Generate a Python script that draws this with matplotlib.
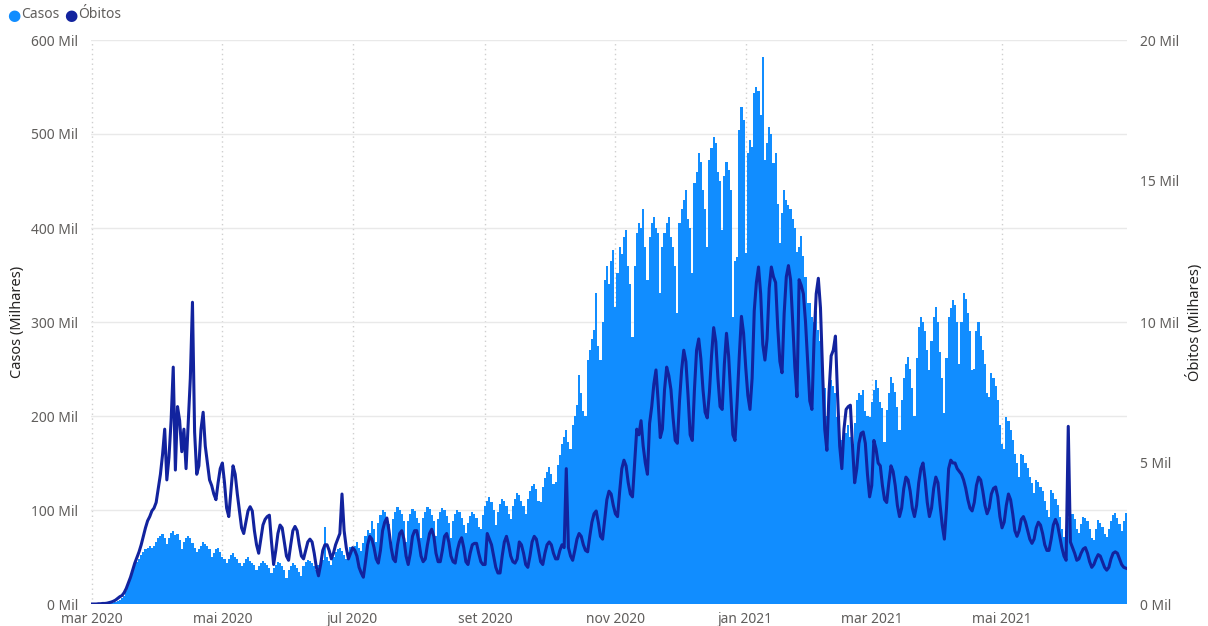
import numpy as np
import pandas as pd
import matplotlib
matplotlib.use("Agg")
import matplotlib.pyplot as plt

# Dados diarios (milhares), a partir de 01/03/2020, uma semana por linha
casos = [
    0, 0, 0, 0.1, 0.1, 0.2, 0.3,
    0.5, 0.8, 1.0, 1.5, 2.0, 3.0, 4.0,
    6, 9, 14, 20, 28, 36, 42,
    45, 48, 52, 55, 58, 60, 62,
    60, 62, 66, 70, 72, 74, 70,
    64, 70, 76, 78, 73, 75, 68,
    58, 66, 70, 72, 70, 65, 60,
    55, 58, 62, 66, 64, 62, 58,
    50, 54, 58, 60, 55, 50, 48,
    44, 48, 52, 54, 50, 48, 44,
    40, 44, 48, 50, 46, 44, 42,
    36, 40, 44, 46, 44, 42, 38,
    33, 38, 42, 45, 44, 40, 36,
    28, 36, 40, 44, 42, 38, 34,
    30, 40, 45, 47, 46, 44, 40,
    36, 42, 48, 47, 82, 50, 46,
    42, 50, 55, 58, 60, 56, 52,
    48, 55, 61, 60, 62, 66, 60,
    56, 65, 72, 79, 76, 88, 80,
    66, 86, 95, 100, 98, 92, 85,
    62, 90, 98, 103, 100, 96, 88,
    66, 88, 96, 101, 99, 92, 86,
    70, 92, 98, 103, 101, 95, 88,
    72, 90, 98, 102, 100, 94, 86,
    70, 88, 96, 100, 98, 92, 84,
    76, 86, 94, 98, 96, 92, 82,
    80, 95, 104, 110, 114, 108, 100,
    84, 98, 106, 112, 110, 104, 96,
    90, 104, 112, 118, 116, 110, 104,
    96, 112, 120, 126, 128, 122, 110,
    108, 125, 134, 140, 146, 138, 128,
    130, 148, 158, 170, 178, 185, 172,
    165, 190, 200, 212, 244, 225, 205,
    200, 260, 270, 282, 291, 331, 275,
    260, 300, 345, 360, 340, 365, 377,
    316, 352, 380, 372, 390, 398, 360,
    340, 284, 360, 395, 405, 400, 420,
    380, 345, 390, 405, 412, 400, 395,
    331, 380, 395, 405, 412, 390, 380,
    360, 310, 405, 420, 430, 440, 410,
    400, 352, 448, 460, 480, 470, 440,
    420, 380, 472, 485, 497, 490, 460,
    450, 398, 455, 470, 462, 440, 305,
    365, 369, 504, 529, 515, 373, 480,
    494, 486, 544, 550, 546, 520, 582,
    472, 490, 507, 500, 469, 480, 426,
    384, 416, 440, 430, 425, 420, 410,
    400, 375, 380, 392, 370, 348, 320,
    320, 305, 300, 312, 291, 280, 238,
    230, 200, 225, 238, 232, 224, 199,
    164, 175, 185, 182, 190, 178, 170,
    193, 217, 224, 222, 228, 205, 200,
    199, 215, 228, 238, 230, 215, 208,
    172, 206, 225, 241, 235, 226, 210,
    185, 217, 240, 255, 263, 250, 230,
    200, 262, 295, 305, 300, 290, 270,
    249, 280, 305, 316, 300, 268, 240,
    203, 262, 305, 315, 323, 318, 300,
    255, 300, 331, 325, 310, 290, 249,
    250, 290, 300, 285, 270, 255, 225,
    220, 246, 240, 232, 217, 190, 170,
    165, 199, 195, 185, 175, 160, 150,
    135, 160, 158, 150, 145, 135, 129,
    118, 132, 130, 125, 120, 110, 100,
    93, 121, 118, 112, 105, 93, 80,
    71, 78, 92, 100, 96, 90, 80,
    76, 85, 93, 92, 88, 80, 70,
    68, 80, 89, 86, 82, 75, 71,
    80, 88, 95, 97, 92, 85, 78,
    88, 97,
]

obitos = [
    0.0, 0.0, 0.0, 0.01, 0.01, 0.02, 0.02,
    0.03, 0.05, 0.07, 0.1, 0.14, 0.2, 0.26,
    0.3, 0.4, 0.55, 0.75, 0.95, 1.2, 1.45,
    1.65, 1.85, 2.1, 2.4, 2.7, 2.95, 3.1,
    3.3, 3.4, 3.6, 4.1, 4.6, 5.3, 6.2,
    4.4, 5.2, 6.5, 8.4, 4.75, 7.0, 6.5,
    5.4, 6.2, 4.8, 6.4, 8.0, 10.7, 6.1,
    4.6, 4.9, 6.2, 6.8, 5.6, 5.0, 4.4,
    4.2, 3.9, 3.7, 4.3, 4.8, 5.0, 4.3,
    3.4, 3.1, 4.0, 4.9, 4.6, 3.9, 3.3,
    2.7, 2.5, 2.9, 3.3, 3.45, 3.3, 2.6,
    2.1, 1.8, 2.3, 2.8, 3.0, 3.1, 3.15,
    2.2, 1.4, 1.9, 2.5, 2.8, 2.7, 2.2,
    1.7, 1.55, 2.1, 2.6, 2.75, 2.6, 2.1,
    1.7, 1.6, 1.9, 2.2, 2.3, 2.2, 1.8,
    1.3, 1.0, 1.4, 1.9, 2.1, 2.1, 1.9,
    1.6, 1.8, 2.1, 2.3, 2.5, 3.9, 2.6,
    2.0, 1.6, 1.8, 2.0, 1.9, 1.7, 1.3,
    1.1, 0.95, 1.5, 2.1, 2.4, 2.3, 2.0,
    1.6, 1.45, 1.9, 2.6, 2.9, 3.05, 2.6,
    2.0, 1.6, 1.5, 2.1, 2.5, 2.6, 2.3,
    1.7, 1.4, 1.8, 2.4, 2.6, 2.6, 2.2,
    1.7, 1.5, 1.6, 2.1, 2.5, 2.65, 2.4,
    1.8, 1.5, 1.5, 1.9, 2.4, 2.5, 2.2,
    1.7, 1.5, 1.45, 1.9, 2.2, 2.35, 2.0,
    1.5, 1.4, 1.8, 2.1, 2.15, 2.15, 1.8,
    1.5, 1.4, 1.4, 2.5, 2.3, 2.1, 1.7,
    1.3, 1.1, 1.1, 1.7, 2.2, 2.4, 2.1,
    1.7, 1.5, 1.45, 1.6, 2.2, 2.1, 1.8,
    1.4, 1.3, 1.7, 2.2, 2.4, 2.3, 1.9,
    1.5, 1.4, 1.8, 2.1, 2.2, 2.1, 1.8,
    1.6, 1.6, 1.9, 2.1, 2.0, 4.8, 2.0,
    1.7, 1.55, 1.9, 2.3, 2.5, 2.4, 2.1,
    1.9, 1.85, 2.4, 2.9, 3.2, 3.3, 2.9,
    2.4, 2.3, 3.0, 3.7, 4.0, 3.9, 3.5,
    3.2, 3.1, 4.0, 4.8, 5.1, 4.9, 4.3,
    3.9, 3.8, 5.0, 6.2, 6.0, 6.5, 5.6,
    5.0, 4.6, 6.4, 7.0, 7.8, 8.3, 7.2,
    5.9, 6.2, 7.6, 8.4, 8.1, 7.6, 6.6,
    5.8, 5.7, 7.2, 8.3, 9.0, 8.6, 7.4,
    6.0, 5.8, 7.6, 9.0, 9.4, 8.7, 7.6,
    6.8, 6.6, 7.5, 8.8, 9.8, 9.3, 8.0,
    7.0, 6.9, 8.5, 9.6, 8.8, 7.4, 6.0,
    5.8, 7.2, 8.8, 10.2, 9.6, 8.4, 7.4,
    6.9, 8.0, 10.4, 11.4, 11.95, 11.0, 9.2,
    8.65, 9.4, 11.2, 11.95, 11.6, 11.4, 9.8,
    8.6, 8.2, 10.3, 11.6, 12.0, 11.5, 10.0,
    8.4, 7.35, 11.5, 11.3, 11.0, 10.0, 8.6,
    7.2, 6.9, 9.4, 11.0, 11.55, 10.5, 8.2,
    6.2, 5.45, 7.5, 8.8, 9.0, 9.5, 7.4,
    5.6, 4.8, 6.2, 6.9, 7.0, 7.05, 5.6,
    4.3, 4.8, 5.7, 6.05, 6.1, 5.7, 4.6,
    3.8, 4.2, 5.8, 5.5, 5.0, 4.9, 4.2,
    3.7, 3.6, 4.3, 4.9, 4.7, 4.2, 3.5,
    3.1, 3.4, 4.1, 4.5, 4.4, 4.0, 3.4,
    3.1, 3.5, 4.3, 4.8, 5.0, 4.4, 3.6,
    3.1, 3.4, 4.1, 4.5, 4.3, 3.5, 2.8,
    2.3, 3.4, 4.8, 5.1, 5.0, 5.0, 4.8,
    4.7, 4.6, 4.4, 4.1, 3.7, 3.4, 3.3,
    3.6, 4.2, 4.5, 4.4, 4.0, 3.5, 3.2,
    3.4, 3.9, 4.1, 4.15, 3.8, 3.1, 2.7,
    2.9, 3.5, 3.9, 3.7, 3.2, 2.6, 2.4,
    2.6, 3.0, 3.1, 2.9, 2.6, 2.3, 2.15,
    2.3, 2.7, 2.9, 2.8, 2.5, 2.1, 1.9,
    1.9, 2.3, 2.8, 3.0, 2.8, 2.4, 2.0,
    1.7, 1.55, 6.3, 2.2, 2.0, 1.8, 1.55,
    1.6, 1.8, 1.95, 2.0, 1.8, 1.5, 1.3,
    1.4, 1.6, 1.75, 1.7, 1.5, 1.3, 1.2,
    1.3, 1.6, 1.8, 1.85, 1.8, 1.6, 1.4,
    1.3, 1.27,
]

inicio = "2020-03-01"
meses_ticks = ["2020-03-01", "2020-05-01", "2020-07-01", "2020-09-01",
               "2020-11-01", "2021-01-01", "2021-03-01", "2021-05-01"]
meses_labels = ["mar 2020", "mai 2020", "jul 2020", "set 2020",
                "nov 2020", "jan 2021", "mar 2021", "mai 2021"]
casos_ticks = [0, 100, 200, 300, 400, 500, 600]
obitos_ticks = [0, 5, 10, 15, 20]

COR_CASOS = "#118DFF"
COR_OBITOS = "#12239E"
COR_TEXTO = "#605E5C"

plt.rcParams["font.family"] = ["Noto Sans", "DejaVu Sans"]

datas = pd.date_range(inicio, periods=len(casos), freq="D")
n = min(len(casos), len(obitos))

fig = plt.figure(figsize=(12.08, 6.26), dpi=100)
W, H = 1208, 626
ax = fig.add_axes([91 / W, 22 / H, (1127 - 91) / W, 564 / H])

ax.bar(datas[:n], casos[:n], width=1.0, color=COR_CASOS, linewidth=0, zorder=2)
ax.set_ylim(0, 600)
ax.set_xlim(datas[0] - pd.Timedelta(hours=12), datas[n - 1] + pd.Timedelta(hours=12))
ax.set_yticks(casos_ticks)
ax.set_yticklabels([f"{v} Mil" for v in casos_ticks])
ax.set_xticks(pd.to_datetime(meses_ticks))
ax.set_xticklabels(meses_labels)
ax.tick_params(axis="both", length=0, colors=COR_TEXTO, labelsize=10)
ax.tick_params(axis="y", pad=9)
ax.tick_params(axis="x", pad=5.5)
ax.grid(axis="y", color="#E9E9E9", linewidth=1, zorder=0)
ax.grid(axis="x", color="#CFCFCF", linewidth=1, linestyle=(0, (1, 2.5)), zorder=0)
ax.set_axisbelow(True)
for s in ax.spines.values():
    s.set_visible(False)

ax2 = ax.twinx()
ax2.plot(datas[:n], obitos[:n], color=COR_OBITOS, linewidth=2.2, solid_joinstyle="round", zorder=3)
ax2.set_ylim(0, 20)
ax2.set_yticks(obitos_ticks)
ax2.set_yticklabels([f"{v} Mil" for v in obitos_ticks])
ax2.tick_params(axis="y", length=0, colors=COR_TEXTO, labelsize=10, pad=9)
for s in ax2.spines.values():
    s.set_visible(False)

# titulos dos eixos
fig.text(18 / W, 1 - 322 / H, "Casos (Milhares)", rotation=90, ha="center", va="center",
         fontsize=10.5, color="#252423", fontweight="bold")
fig.text(1195 / W, 1 - 322 / H, "Óbitos (Milhares)", rotation=90, ha="center", va="center",
         fontsize=10.5, color="#252423", fontweight="bold")

# legenda
fig.text(7 / W, 1 - 15 / H, "●", color=COR_CASOS, fontsize=11, va="center", family="DejaVu Sans")
fig.text(21 / W, 1 - 15 / H, "Casos", color=COR_TEXTO, fontsize=10, va="center")
fig.text(64 / W, 1 - 15 / H, "●", color=COR_OBITOS, fontsize=11, va="center", family="DejaVu Sans")
fig.text(78 / W, 1 - 15 / H, "Óbitos", color=COR_TEXTO, fontsize=10, va="center")

fig.savefig("out.png", dpi=100)
